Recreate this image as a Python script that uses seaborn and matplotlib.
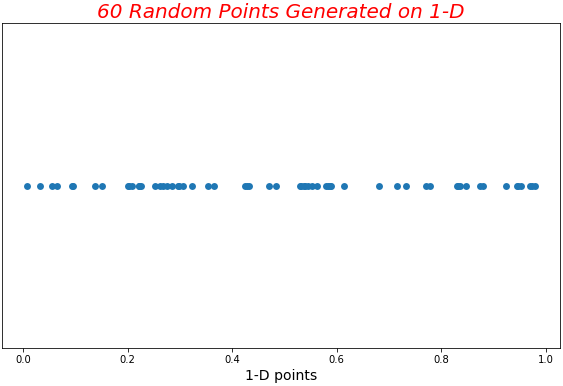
import matplotlib
matplotlib.use("Agg")
import matplotlib.pyplot as plt
import seaborn as sns
import pandas as pd

x_values = [0.008, 0.033, 0.056, 0.065, 0.093, 0.095, 0.137, 0.151, 0.200, 0.202,
            0.208, 0.221, 0.222, 0.225, 0.252, 0.261, 0.268, 0.275, 0.285, 0.296,
            0.298, 0.305, 0.324, 0.353, 0.365, 0.425, 0.428, 0.432, 0.470, 0.483,
            0.529, 0.531, 0.537, 0.540, 0.545, 0.553, 0.563, 0.579, 0.583, 0.588,
            0.590, 0.615, 0.681, 0.716, 0.733, 0.771, 0.778, 0.830, 0.832, 0.837,
            0.848, 0.875, 0.880, 0.925, 0.946, 0.948, 0.952, 0.971, 0.973, 0.979]
y_values = [0] * len(x_values)

df = pd.DataFrame({"x": x_values, "y": y_values})

fig = plt.figure(figsize=(563 / 72, 386 / 72), dpi=72)
ax = fig.add_axes([2 / 563, 1 - 348 / 386, 558 / 563, 325 / 386])
sns.scatterplot(data=df, x="x", y="y", ax=ax, s=48, color="#1f77b4",
                linewidth=0, legend=False)
ax.set_yticks([])
ax.set_ylim(-0.055, 0.055)
ax.set_ylabel("")
ax.set_xticks([0.0, 0.2, 0.4, 0.6, 0.8, 1.0])
ax.tick_params(axis="x", labelsize=10)
ax.set_xlabel("1-D points", fontsize=14)
ax.set_title("60 Random Points Generated on 1-D", color="red", style="italic",
             fontsize=20, pad=5)
fig.savefig("out.png", dpi=72)
